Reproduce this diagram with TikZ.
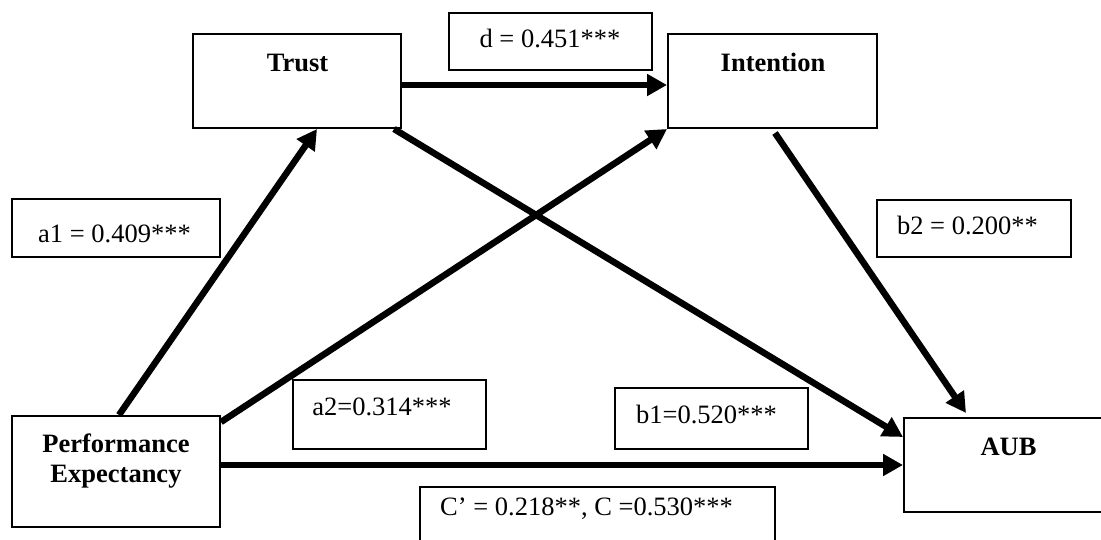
\documentclass[tikz,border=0pt]{standalone}
\usepackage{fontspec}
\setmainfont{Liberation Serif}
\usetikzlibrary{arrows.meta}
\begin{document}
\begin{tikzpicture}[x=1pt,y=-1pt,
  font=\fontsize{26.5}{30}\selectfont,
  boxnode/.style={draw=black,line width=2pt,rectangle,inner sep=0pt,fill=white},
  txt/.style={inner sep=0pt,anchor=base},
  conn/.style={line width=6.5pt,-{Triangle[length=20pt,width=21pt]}}]
\useasboundingbox (0,0) rectangle (1101,540);
\clip (0,0) rectangle (1101,540);
\fill[white] (0,0) rectangle (1101,540);
% main variable boxes
\node[boxnode,minimum width=208pt,minimum height=94pt] (trust) at (297,81) {};
\node[boxnode,minimum width=209pt,minimum height=94pt] (int) at (772.5,81) {};
\node[boxnode,minimum width=208pt,minimum height=111pt] (pe) at (116,471.5) {};
\node[boxnode,minimum width=208pt,minimum height=94pt] (aub) at (1008,465) {};
% coefficient boxes
\node[boxnode,minimum width=203pt,minimum height=57pt] (dbox) at (550.5,41.5) {};
\node[boxnode,minimum width=208pt,minimum height=58pt] (a1box) at (116,228) {};
\node[boxnode,minimum width=194pt,minimum height=57pt] (b2box) at (974,228.5) {};
\node[boxnode,minimum width=193pt,minimum height=69pt] (a2box) at (389.5,414.5) {};
\node[boxnode,minimum width=193pt,minimum height=61pt] (b1box) at (711.5,418.5) {};
\node[boxnode,minimum width=355pt,minimum height=60pt] (cbox) at (597.5,517) {};
% texts
\node[txt] (ttrust) at (297.5,72) {\bfseries Trust};
\node[txt] (tint) at (773,72) {\bfseries Intention};
\node[txt] (tpe1) at (116,452) {\bfseries Performance};
\node[txt] (tpe2) at (116,482) {\bfseries Expectancy};
\node[txt] (taub) at (1008.5,455) {\bfseries AUB};
\node[txt] (td) at (550,48) {d = 0.451***};
\node[txt] (ta1) at (114.5,243) {a1 = 0.409***};
\node[txt] (tb2) at (967.5,235) {b2 = 0.200**};
\node[txt] (ta2) at (382,415) {a2=0.314***};
\node[txt] (tb1) at (706.5,423) {b1=0.520***};
\node[txt,anchor=base west] (tc) at (440,515) {C’ = 0.218**, C =0.530***};
% connectors
\draw[conn] ([xshift=108pt]pe.north west) -- ([xshift=125pt]trust.south west);
\draw[conn] ([yshift=-7pt]pe.north east) -- (int.south west);
\draw[conn] ([yshift=-4pt]trust.east) -- ([yshift=-4pt]int.west);
\draw[conn] ([xshift=-8pt]trust.south east) -- ([yshift=-20pt]aub.north west);
\draw[conn] ([xshift=2.5pt,yshift=-4pt]int.south) -- ([xshift=63pt,yshift=4pt]aub.north west);
\draw[conn] ([yshift=6.5pt]pe.east) -- (aub.west);
\end{tikzpicture}
\end{document}
